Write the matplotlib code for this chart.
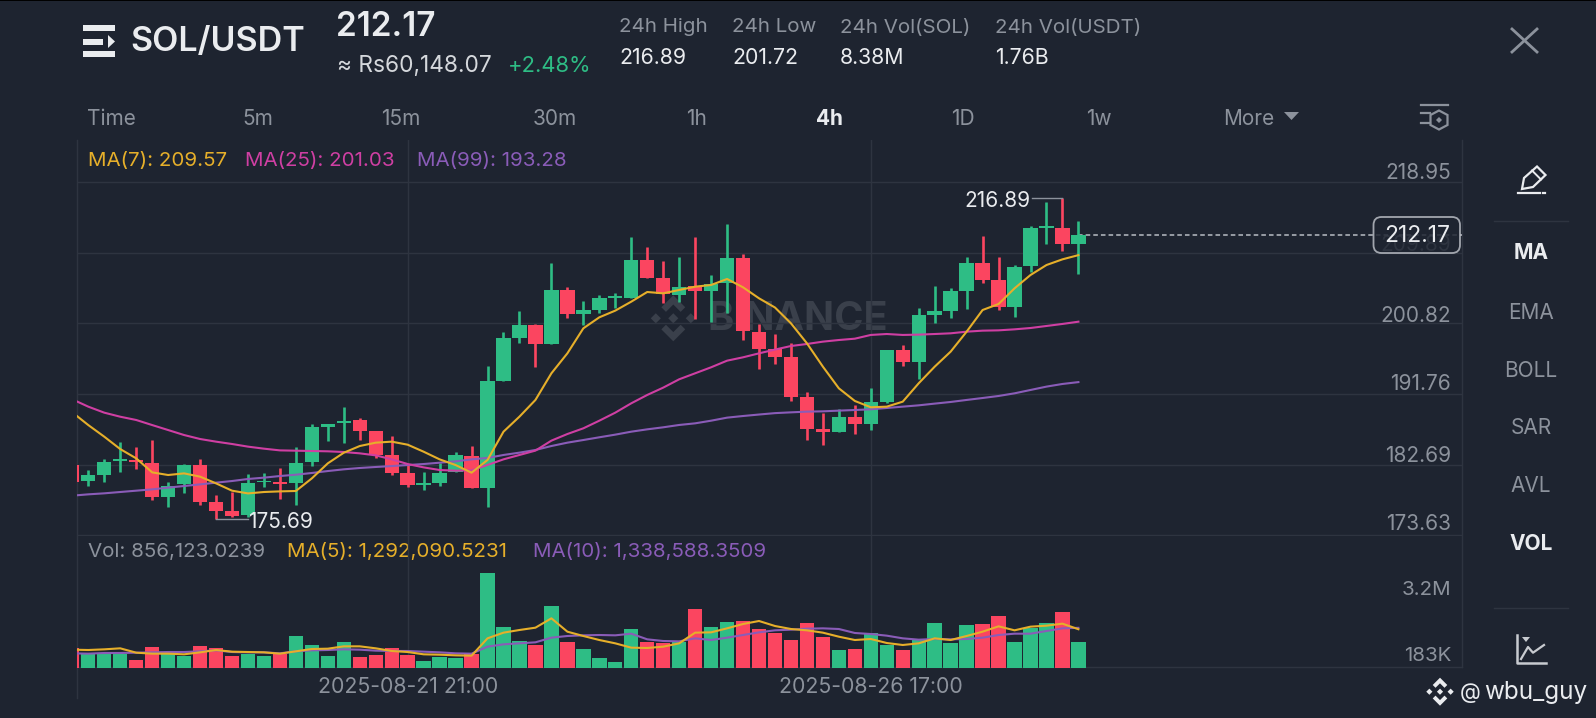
import matplotlib
matplotlib.use("Agg")
from matplotlib import pyplot as plt
from matplotlib.patches import FancyBboxPatch, Polygon, Rectangle
import numpy as np

# candles, one per 4h, oldest first
opens = [182.64,180.63,181.32,183.11,183.28,182.86,178.5,180.2,182.6,177.94,176.7,176.19,180.42,180.46,180.29,183.0,
         187.56,188.0,188.42,186.96,183.97,181.6,180.12,180.29,181.79,183.8,179.65,193.47,198.94,200.61,198.13,205.14,
         201.98,202.53,204.07,204.11,208.99,206.6,204.5,205.61,204.97,205.95,209.16,199.75,197.53,196.55,191.41,187.22,
         186.88,188.85,187.95,190.69,197.36,195.82,201.9,202.45,205.01,208.6,206.34,202.96,208.18,213.05,213.09,211.0]
highs = [182.7,182.0,183.37,185.64,184.9,185.85,180.5,182.77,183.37,178.75,179.22,181.5,181.66,182.2,185.0,187.9,
         187.9,190.04,188.63,187.0,186.36,182.64,181.79,182.94,184.35,185.08,195.35,199.71,202.36,200.73,208.52,205.5,
         203.73,204.46,204.76,211.94,210.66,208.86,209.29,211.94,207.06,213.56,209.67,200.73,199.45,198.26,192.05,189.28,
         189.88,190.3,192.48,197.36,198.04,202.75,205.65,205.3,209.37,212.03,209.37,208.26,213.27,216.43,216.89,214.0]
lows = [180.4,179.95,180.5,181.79,182.09,178.15,177.3,179.1,177.47,175.69,175.93,176.0,179.78,178.24,177.5,182.56,
        185.76,185.5,185.85,183.54,181.4,179.78,179.44,179.95,181.79,179.65,177.3,193.47,198.34,195.26,198.13,201.55,
        200.61,202.19,202.75,204.11,206.64,203.39,203.6,201.42,201.03,202.19,198.68,195.0,195.56,190.9,185.85,185.2,
        186.88,186.6,187.14,190.56,195.35,193.72,200.82,201.46,202.6,205.95,202.53,201.68,207.45,211.0,210.14,207.15]
closes = [180.5,181.32,183.07,183.37,183.03,178.5,179.95,182.6,177.94,176.7,176.1,180.38,180.63,180.25,182.94,187.5,
          187.9,188.33,186.96,183.97,181.66,180.12,180.33,181.66,183.93,179.65,193.42,198.9,200.61,198.17,205.14,201.98,
          202.49,204.03,204.28,208.99,206.64,204.58,205.5,205.01,205.87,209.16,199.84,197.53,196.54,191.41,187.22,186.92,
          188.85,187.91,190.69,197.36,195.86,201.9,202.36,204.97,208.6,206.38,202.87,208.09,213.05,213.31,211.0,212.17]

ma7 = [189.4,187.77,186.28,184.69,183.5,181.7,181.36,181.57,181.15,180.29,179.35,179.0,179.18,179.26,179.31,180.93,
       182.86,184.22,185.08,185.51,185.64,185.25,184.35,183.37,182.64,181.66,183.29,186.92,188.85,190.99,194.41,196.97,
       200.18,201.59,202.45,203.6,204.84,204.67,205.1,205.52,205.74,206.51,205.44,204.03,202.85,200.82,198.26,195.26,
       192.48,190.86,190.05,190.13,190.77,193.13,195.26,197.19,199.75,202.53,203.3,205.31,207.02,208.3,209.03,209.57]
ma25 = [191.07,190.13,189.36,188.84,188.42,187.77,187.13,186.49,185.98,185.64,185.34,185.0,184.74,184.52,184.48,184.44,
        184.4,184.31,184.14,183.88,183.37,182.77,182.34,182.0,181.92,181.96,182.65,183.37,183.93,184.49,185.77,186.62,
        187.35,188.33,189.36,190.56,191.63,192.57,193.64,194.41,195.18,196.03,196.46,196.97,197.45,197.91,198.17,198.47,
        198.68,198.85,199.33,199.45,199.33,199.37,199.45,199.54,199.75,199.88,199.92,200.05,200.22,200.48,200.74,201.03]
ma99 = [178.71,178.88,179.01,179.18,179.35,179.52,179.74,179.95,180.16,180.38,180.59,180.85,181.02,181.23,181.4,181.62,
        181.87,182.09,182.26,182.39,182.51,182.64,182.77,182.94,183.11,183.37,183.55,183.93,184.23,184.57,185.08,185.51,
        185.85,186.2,186.54,186.92,187.22,187.48,187.78,187.99,188.33,188.72,188.93,189.12,189.3,189.4,189.49,189.53,
        189.62,189.7,189.79,189.96,190.13,190.3,190.52,190.73,190.99,191.24,191.5,191.84,192.27,192.7,193.04,193.28]

# volume in millions
volume = [0.678,0.456,0.511,0.478,0.278,0.689,0.467,0.389,0.722,0.678,0.4,0.478,0.389,0.478,1.056,0.778,
          0.4,0.856,0.378,0.444,0.667,0.444,0.233,0.367,0.333,0.478,3.156,1.356,0.889,0.756,2.056,0.878,
          0.645,0.322,0.211,1.3,0.878,0.833,0.856,1.956,1.356,1.522,1.556,1.311,1.178,0.933,1.489,1.044,
          0.611,0.622,1.178,0.767,0.6,0.922,1.5,0.833,1.444,1.456,1.722,0.867,1.322,1.5,1.867,0.856]
vol_ma5 = [0.611,0.6,0.622,0.656,0.511,0.478,0.478,0.456,0.522,0.6,0.544,0.533,0.522,0.478,0.556,0.633,
           0.644,0.722,0.722,0.656,0.567,0.533,0.456,0.444,0.422,0.411,0.989,1.178,1.267,1.344,1.656,1.211,
           1.067,0.933,0.822,0.678,0.667,0.711,0.822,1.178,1.189,1.322,1.467,1.567,1.4,1.3,1.256,1.178,
           1.044,0.933,0.967,0.833,0.767,0.822,0.989,0.933,1.067,1.211,1.389,1.256,1.378,1.411,1.478,1.292]
vol_ma10 = [0.489,0.478,0.5,0.5,0.511,0.522,0.533,0.533,0.556,0.589,0.533,0.522,0.522,0.489,0.556,0.589,
            0.6,0.622,0.611,0.578,0.567,0.567,0.544,0.522,0.489,0.478,0.711,0.789,0.822,0.856,1.011,1.067,
            1.089,1.1,1.089,1.144,0.956,0.9,0.889,0.989,0.933,1.011,1.1,1.189,1.256,1.278,1.311,1.322,
            1.3,1.167,1.133,1.078,0.989,0.944,0.967,0.956,0.967,1.011,1.1,1.144,1.144,1.233,1.322,1.339]

price_ticks = [218.95,209.89,200.82,191.76,182.69,173.63]
date_idx = [21,50]
date_labels = ["2025-08-21 21:00","2025-08-26 17:00"]
tabs = ["Time","5m","15m","30m","1h","4h","1D","1w","More"]
tab_x = [87,242,381,533,686,816,951,1086,1223]
side_labels = ["MA","EMA","BOLL","SAR","AVL","VOL"]
side_y = [251,311,369,426,484,542]
stats = [("24h High","216.89",619),("24h Low","201.72",732),("24h Vol(SOL)","8.38M",840),("24h Vol(USDT)","1.76B",995)]

BG="#1E2430"; GRID="#2E3440"; GRAY="#8C929C"; WHITE="#EAECEF"; GREEN="#2EBD85"; RED="#FB4560"
YELLOW="#E6AF2A"; PINK="#CF3FA3"; PURPLE="#8A5CB8"; MARK="#3A404B"
plt.rcParams['font.family']=['Inter','DejaVu Sans']

W,H=1596,718
fig=plt.figure(figsize=(W/100,H/100),dpi=100,facecolor=BG)

def px_axes(left,top,right,bottom,z):
    return fig.add_axes([left/W,1-bottom/H,(right-left)/W,(bottom-top)/H],facecolor='none',zorder=z)

x=np.arange(len(opens))
up=np.array(closes)>=np.array(opens)
colors=[GREEN if u else RED for u in up]
xlim=(0.2755,87.0)

# candle pane
ax=px_axes(76.7,140,1461.7,535.5,2)
ax.set_xlim(xlim); ax.set_ylim(173.6,224.34)
ax.axis('off')
for t in price_ticks:
    ax.axhline(t,color=GRID,lw=1,zorder=1)
for d in date_idx:
    ax.axvline(d,color=GRID,lw=1,zorder=1)
ax.vlines(x,lows,highs,colors=colors,lw=1.9,zorder=3)
ax.bar(x,np.abs(np.array(closes)-np.array(opens)),bottom=np.minimum(opens,closes),width=0.9,color=colors,zorder=3)
ax.plot(x,ma99,color=PURPLE,lw=1.5,zorder=4)
ax.plot(x,ma25,color=PINK,lw=1.5,zorder=4)
ax.plot(x,ma7,color=YELLOW,lw=1.5,zorder=5)
ax.plot([x[-1],87],[closes[-1],closes[-1]],color="#B9BDC4",lw=1.1,ls=(0,(3,2)),zorder=2)
# high / low markers
ax.plot([60.1,62],[216.89,216.89],color="#8C929C",lw=1,zorder=4)
ax.plot([9,11],[175.69,175.69],color="#8C929C",lw=1,zorder=4)

# volume pane
vax=px_axes(76.7,535.5,1461.7,668,2)
vax.set_xlim(xlim); vax.set_ylim(0,4.417)
vax.axis('off')
for d in date_idx:
    vax.axvline(d,color=GRID,lw=1,zorder=1)
vax.bar(x,volume,width=0.9,color=colors,zorder=3)
vax.plot(x,vol_ma10,color=PURPLE,lw=1.5,zorder=4)
vax.plot(x,vol_ma5,color=YELLOW,lw=1.5,zorder=5)

# overlay in pixels for the app chrome
ui=px_axes(0,0,W,H,1)
ui.set_xlim(0,W); ui.set_ylim(H,0); ui.axis('off')
ui2=px_axes(0,0,W,H,6)
ui2.set_xlim(0,W); ui2.set_ylim(H,0); ui2.axis('off')

def txt(a,px,py,s,size,color,weight='normal',ha='left',alpha=None,zorder=5):
    a.text(px,py+6,s,fontsize=size,color=color,fontweight=weight,ha=ha,va='center',alpha=alpha,zorder=zorder)

def binance_logo(a,cx,cy,r,color):
    # exchange mark: two chevrons and three small diamonds
    top=[(0,-1),(0.52,-0.48),(0.32,-0.28),(0,-0.6),(-0.32,-0.28),(-0.52,-0.48)]
    a.add_patch(Polygon([(cx+r*p,cy+r*q) for p,q in top],fc=color,lw=0))
    a.add_patch(Polygon([(cx+r*p,cy-r*q) for p,q in top],fc=color,lw=0))
    for ox in (-0.76,0,0.76):
        s=0.22*r
        a.add_patch(Polygon([(cx+ox*r-s,cy),(cx+ox*r,cy-s),(cx+ox*r+s,cy),(cx+ox*r,cy+s)],fc=color,lw=0))

ui.add_patch(Rectangle((0,0),W,1.2,color="black",lw=0))
# frame
ui.plot([76.7,76.7],[140,698],color=GRID,lw=1)
ui.plot([1461.7,1461.7],[140,667],color=GRID,lw=1)
ui.plot([76.7,1461.7],[667,667],color=GRID,lw=1)

# header
ui.add_patch(Rectangle((83,25),32,5.5,color=WHITE,lw=0))
ui.add_patch(Rectangle((83,38.5),20,6,color=WHITE,lw=0))
ui.add_patch(Rectangle((83,51),32,6,color=WHITE,lw=0))
ui.add_patch(Polygon([(108,35),(115,41.5),(108,48)],color=WHITE,lw=0))
txt(ui,130,36,"SOL/USDT",24.5,WHITE,'semibold')
txt(ui,336,21,"212.17",24,WHITE,'semibold')
txt(ui,337,60.5,"≈ Rs60,148.07",16.3,"#D5D8DC")
txt(ui,508,60.5,"+2.48%",15.8,GREEN)
for name,val,sx in stats:
    txt(ui,sx,21.5,name,14.8,GRAY)
    txt(ui,sx,52.5,val,15.3,WHITE)
ui.plot([1512,1537],[29,52],color=GRAY,lw=2)
ui.plot([1512,1537],[52,29],color=GRAY,lw=2)

# interval tabs
for name,tx in zip(tabs,tab_x):
    active=name=="4h"
    txt(ui,tx,113,name,15,WHITE if active else GRAY,'bold' if active else 'normal')
ui.add_patch(Polygon([(1284,112),(1299,112),(1291.5,120)],color=GRAY,lw=0))
ui.plot([1421,1448],[104.7,104.7],color=GRAY,lw=1.6)
ui.plot([1421,1430],[113.3,113.3],color=GRAY,lw=1.6)
ui.plot([1421,1430],[123.3,123.3],color=GRAY,lw=1.6)
ui.add_patch(Polygon([(1439,110.5),(1447.5,115),(1447.5,125),(1439,129.5),(1430.5,125),(1430.5,115)],fill=False,ec=GRAY,lw=1.6))
ui.add_patch(Polygon([(1439,117),(1442,120),(1439,123),(1436,120)],fc=GRAY,lw=0))

# legends
txt(ui,88,155,"MA(7): 209.57",14.8,YELLOW)
txt(ui,245,155,"MA(25): 201.03",14.8,PINK)
txt(ui,417,155,"MA(99): 193.28",14.8,PURPLE)
txt(ui,88,546,"Vol: 856,123.0239",14.8,GRAY)
txt(ui,287,546,"MA(5): 1,292,090.5231",14.8,YELLOW)
txt(ui,533,546,"MA(10): 1,338,588.3509",14.8,PURPLE)

# axis labels, the 209.89 one sits behind the last price box
for t,ty in zip(price_ticks,[167,239,309.5,378.5,449.5,518]):
    txt(ui,1451,ty,"%.2f"%t,15,GRAY,ha='right')
txt(ui,1451,584,"3.2M",14.8,GRAY,ha='right')
txt(ui,1451,650,"183K",14.8,GRAY,ha='right')
txt(ui,408,681,date_labels[0],15.3,GRAY,ha='center')
txt(ui,871,681,date_labels[1],15.3,GRAY,ha='center')

# on chart labels
txt(ui2,964,195,"216.89",15,WHITE)
txt(ui2,248,516,"175.69",15,WHITE)
ui2.add_patch(FancyBboxPatch((1373.5,217),86.5,36,boxstyle="round,pad=0,rounding_size=8",fc=BG,ec="#B9BDC4",lw=1.3,alpha=0.85))
txt(ui2,1417,230,"212.17",16.5,WHITE,ha='center')

# exchange watermark
txt(ui,707,313,"BINANCE",28.5,MARK,'bold')
binance_logo(ui,673.3,318.3,23,MARK)

# side bar
ui.plot([1494,1568],[221,221],color=GRID,lw=1)
ui.plot([1494,1568],[608,608],color=GRID,lw=1)
for name,sy in zip(side_labels,side_y):
    active=name in("MA","VOL")
    txt(ui,1531,sy-4,name,15,WHITE if active else GRAY,'bold' if active else 'normal',ha='center')
ui.add_patch(Polygon([(1522,189),(1524,178),(1537,166.5),(1545.5,175),(1533,187)],fill=False,ec=WHITE,lw=1.6))
ui.plot([1532,1541],[170.5,179.5],color=WHITE,lw=1.4)
ui.plot([1518,1540],[192.7,192.7],color=WHITE,lw=1.6)
ui.plot([1542.5,1545],[192.7,192.7],color=WHITE,lw=1.6)
ui.plot([1517,1517,1546],[635,662.7,662.7],color="#C8CBD0",lw=1.8)
ui.plot([1521,1528,1533,1544],[659,647,652.7,645],color="#C8CBD0",lw=1.6)
ui.add_patch(Polygon([(1522,637),(1530,637),(1526,642)],fc="#C8CBD0",lw=0))

# post author tag
binance_logo(ui2,1440,691.7,14,WHITE)
txt(ui2,1460,687,"@",15.5,WHITE)
txt(ui2,1484,687,"wbu_guy",17.5,WHITE)

fig.savefig("out.png",dpi=100,facecolor=BG)
